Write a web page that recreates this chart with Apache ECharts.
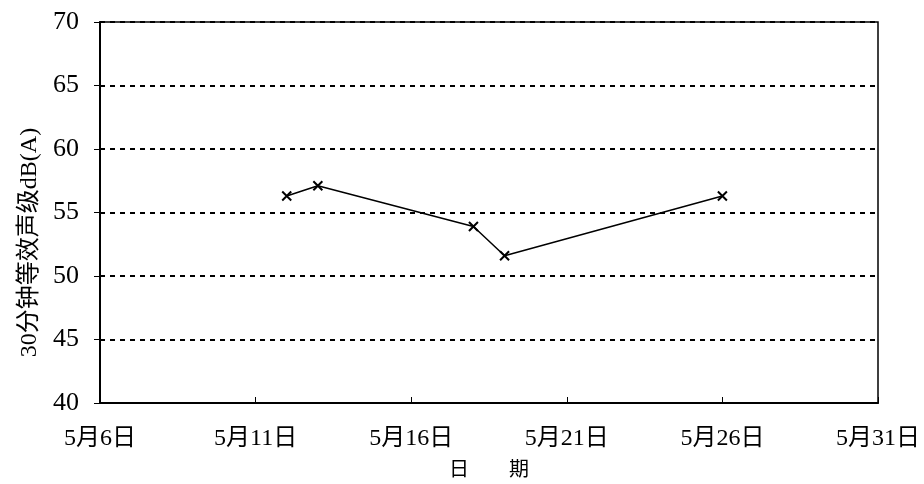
<!DOCTYPE html>
<html>
<head>
<meta charset="utf-8">
<script src="https://cdn.jsdelivr.net/npm/echarts@6/dist/echarts.min.js"></script>
<style>html,body{margin:0;padding:0;background:#fff}#c{width:924px;height:484px}</style>
</head>
<body>
<div id="c"></div>
<script>
// Data (days of May) and noise level values dB(A)
const startDay = 6;            // axis starts at 5月6日
const days = [12, 13, 18, 19, 26];
const values = [56.3, 57.1, 53.9, 51.6, 56.3];
const xTickStep = 5;
const yTicks = [40, 45, 50, 55, 60, 65, 70];
const xName = '日　　期';
const yName = '30分钟等效声级dB(A)';

const serif = '"Liberation Serif", "Noto Sans CJK SC", serif';
const chart = echarts.init(document.getElementById('c'));
chart.setOption({
  animation: false,
  backgroundColor: '#fff',
  grid: { left: 100, right: 46, top: 22, bottom: 81, show: true, borderColor: '#000', borderWidth: 1.5 },
  xAxis: {
    type: 'value', min: 0, max: 25, interval: xTickStep,
    name: xName, nameLocation: 'middle', nameGap: 55,
    nameTextStyle: { fontFamily: '"Noto Sans CJK SC", serif', fontSize: 20, color: '#000' },
    axisLine: { lineStyle: { color: '#000', width: 2 } },
    axisTick: { inside: true, length: 6, lineStyle: { color: '#000', width: 1 } },
    axisLabel: { formatter: v => '5月' + (v + startDay) + '日', fontFamily: serif, fontSize: 24, color: '#000', margin: 24 },
    splitLine: { show: false }
  },
  yAxis: {
    type: 'value', min: yTicks[0], max: yTicks[yTicks.length - 1], interval: yTicks[1] - yTicks[0],
    name: yName, nameLocation: 'middle', nameGap: 54,
    nameTextStyle: { fontFamily: serif, fontSize: 24, color: '#000', padding: [0, 60, 0, 0] },
    axisLine: { lineStyle: { color: '#000', width: 2 } },
    axisTick: { inside: false, length: 6, lineStyle: { color: '#000', width: 1 } },
    axisLabel: { fontFamily: serif, fontSize: 26, color: '#000', margin: 21 },
    splitLine: { show: true, lineStyle: { color: '#000', width: 2, type: [5, 5] } }
  },
  series: [{
    type: 'line',
    data: days.map((d, i) => [d - startDay, values[i]]),
    symbol: 'path://M0,0L10,10M10,0L0,10',
    symbolSize: 9,
    itemStyle: { color: '#000', borderColor: '#000', borderWidth: 2 },
    lineStyle: { color: '#000', width: 1.5 }
  }]
});
</script>
</body>
</html>
